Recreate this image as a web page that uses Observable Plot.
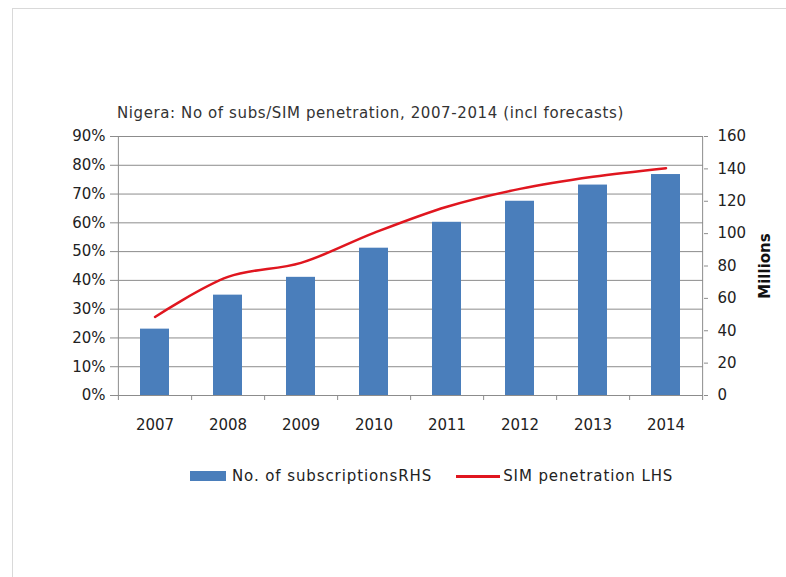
<!DOCTYPE html>
<html>
<head>
<meta charset="utf-8">
<script src="https://cdn.jsdelivr.net/npm/d3@7"></script>
<script src="https://cdn.jsdelivr.net/npm/@observablehq/plot@0.6"></script>
<style>
  html, body { margin: 0; padding: 0; background: #fff; }
  #wrap { position: relative; width: 786px; height: 577px; overflow: hidden; font-family: "DejaVu Sans", sans-serif; color: #222; }
  #border { position: absolute; left: 12px; top: 8px; width: 800px; height: 600px; border: 1px solid #d9d9d9; box-sizing: border-box; }
  #chart { position: absolute; left: 0; top: 0; }
  #title { position: absolute; left: 117px; top: 104px; font-size: 15px; letter-spacing: 0.6px; color: #333; white-space: nowrap; }
  #legend { position: absolute; left: 190px; top: 467px; font-size: 15px; letter-spacing: 0.9px; color: #222; white-space: nowrap; display: flex; align-items: center; }
  .sw { display: inline-block; }
</style>
</head>
<body>
<div id="wrap">
  <div id="border"></div>
  <div id="chart"></div>
  <div id="title"></div>
  <div id="legend"></div>
</div>
<script>
const years = ["2007", "2008", "2009", "2010", "2011", "2012", "2013", "2014"];
const subscriptions = [41, 62, 73, 91, 107, 120, 130, 136.5];   // millions, RHS
const penetration = [27.3, 41.2, 46.1, 56.5, 65.6, 71.8, 76.0, 79.0]; // %, LHS
const leftTicks = [0, 10, 20, 30, 40, 50, 60, 70, 80, 90];
const rightTicks = [0, 20, 40, 60, 80, 100, 120, 140, 160];
const titleText = "Nigera: No of subs/SIM penetration, 2007-2014 (incl forecasts)";
const seriesNames = ["No. of subscriptionsRHS", "SIM penetration LHS"];
const rightLabel = "Millions";

const barColor = "#4a7ebb";
const lineColor = "#e0161f";
const gridColor = "#8c8c8c";

const LMAX = 90, RMAX = 160;
const data = years.map((y, i) => ({year: y, subs: subscriptions[i], pen: penetration[i]}));
const toLeft = m => m / RMAX * LMAX; // map millions onto the % scale

const W = 786, H = 440;
const mL = 117, mR = 83, mT = 136, mB = 45;
const step = (W - mL - mR) / years.length;

const plot = Plot.plot({
  width: W, height: H,
  marginLeft: mL, marginRight: mR, marginTop: mT, marginBottom: mB,
  style: {fontFamily: "DejaVu Sans, sans-serif", fontSize: "15px", color: "#222", background: "transparent"},
  x: {domain: years, padding: 0},
  y: {domain: [0, LMAX]},
  marks: [
    Plot.gridY(leftTicks, {stroke: gridColor, strokeOpacity: 1}),
    Plot.barY(data, {x: "year", y: d => toLeft(d.subs), fill: barColor, insetLeft: 22, insetRight: 22}),
    Plot.ruleY([0], {stroke: gridColor}),
    Plot.ruleX([years[0]], {dx: -step / 2, y1: 0, y2: LMAX, stroke: gridColor}),
    Plot.ruleX([years[years.length - 1]], {dx: step / 2, y1: 0, y2: LMAX, stroke: gridColor}),
    Plot.lineY(data, {x: "year", y: "pen", stroke: lineColor, strokeWidth: 2.5, curve: "catmull-rom"}),
    Plot.axisY({anchor: "left", ticks: leftTicks, tickFormat: d => d + "%", tickSize: 7, tickPadding: 5, stroke: gridColor, label: null}),
    Plot.axisY({anchor: "right", ticks: rightTicks.map(toLeft), tickFormat: v => String(Math.round(v / LMAX * RMAX)), tickSize: 4, tickPadding: 10, stroke: gridColor, textAnchor: "start", label: null}),
    Plot.axisX({ticks: years, tickSize: 0, tickPadding: 24, label: null}),
    Plot.axisX({ticks: years, tickSize: 5, dx: step / 2, tickFormat: () => "", stroke: gridColor, label: null}),
    Plot.axisX({ticks: [years[0]], tickSize: 5, dx: -step / 2, tickFormat: () => "", stroke: gridColor, label: null}),
    Plot.text([rightLabel], {frameAnchor: "right", dx: 62, rotate: -90, textAnchor: "middle", fontWeight: "bold", fontSize: 15, fill: "#111"})
  ]
});
document.getElementById("chart").appendChild(plot);

document.getElementById("title").textContent = titleText;
const lg = document.getElementById("legend");
lg.innerHTML =
  `<span class="sw" style="width:36px;height:10px;background:${barColor};margin-right:6px"></span>` +
  `<span>${seriesNames[0]}</span>` +
  `<span class="sw" style="width:44px;height:3px;background:${lineColor};margin-left:24px;margin-right:3px"></span>` +
  `<span>${seriesNames[1]}</span>`;
</script>
</body>
</html>
